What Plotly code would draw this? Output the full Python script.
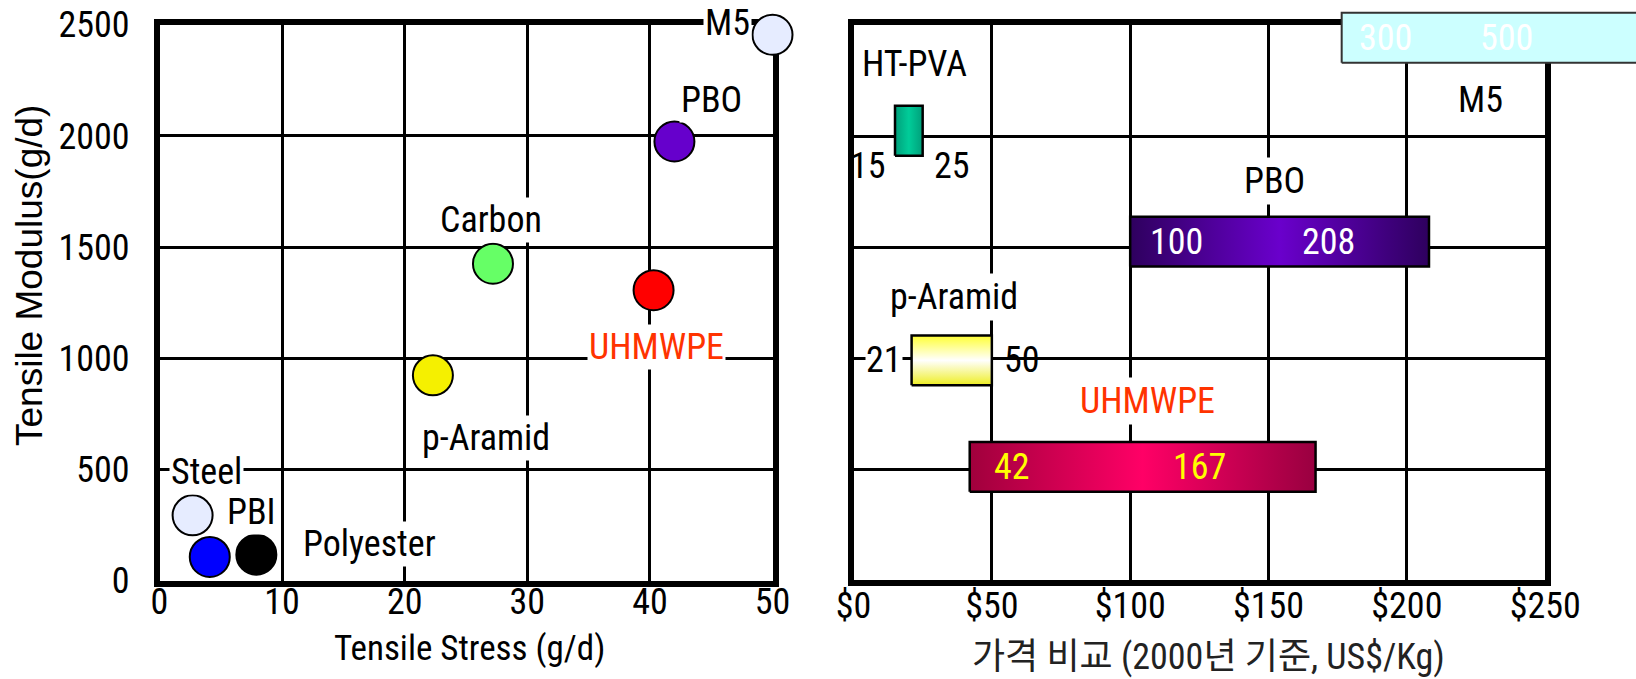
import plotly.graph_objects as go

# ---------------- Left chart data (tensile properties) ----------------
fibers = ["M5", "PBO", "Carbon", "UHMWPE", "p-Aramid", "Steel", "PBI", "Polyester"]
tensile_stress = [50, 42, 27.2, 40.3, 22.3, 2.7, 4.1, 7.9]          # g/d
tensile_modulus = [2455, 1975, 1425, 1306, 923, 293, 106, 116]       # g/d
stress_ticks = [0, 10, 20, 30, 40, 50]
modulus_ticks = [0, 500, 1000, 1500, 2000, 2500]

# ---------------- Right chart data (price ranges, US$/Kg, 2000) ----------------
price_fibers = ["HT-PVA", "PBO", "p-Aramid", "UHMWPE"]
price_low = [15, 100, 21, 42]
price_high = [25, 208, 50, 167]
price_row = [4.05, 3.05, 1.98, 1.02]
m5_low = 300
m5_high = 500
m5_row = 4.875
price_ticks = [0, 50, 100, 150, 200, 250]
price_tick_text = ["$0", "$50", "$100", "$150", "$200", "$250"]

# ---------------- Styles ----------------
W, H = 1636, 679
NARROW = "Liberation Sans Narrow, Arial Narrow, Roboto Condensed, DejaVu Sans Condensed, sans-serif"
REG = "Liberation Sans, Arial, sans-serif"
KR = "Liberation Sans Narrow, Arial Narrow, Roboto Condensed, Noto Sans CJK KR, sans-serif"
FS = 36
ORANGE = "#FF3300"

marker_colors = ["#E6ECFF", "#6600CC", "#66FF66", "#FF0000", "#F5F000", "#E6ECFF", "#0000FF", "#000000"]
left_label_pos = {  # (x, y, xanchor, yshift, color)
    "M5": (48.3, 2500, "right", 2, "black"),
    "PBO": (45.0, 2161, "center", 0, "black"),
    "Carbon": (27.0, 1624, "center", 0, "black"),
    "UHMWPE": (40.5, 1050, "center", 0, ORANGE),
    "p-Aramid": (26.6, 643, "center", 0, "black"),
    "Steel": (3.8, 489, "center", 0, "black"),
    "PBI": (7.5, 307, "center", 0, "black"),
    "Polyester": (17.1, 162, "center", 0, "black"),
}
bar_gradients = {
    "HT-PVA": ("horizontal", [[0, "#009f7a"], [0.5, "#00cc99"], [1, "#009f7a"]]),
    "PBO": ("horizontal", [[0, "#2e005e"], [0.5, "#6a00cc"], [1, "#2e005e"]]),
    "p-Aramid": ("vertical", [[0, "#eeee22"], [0.5, "#ffffff"], [1, "#ffff33"]]),
    "UHMWPE": ("horizontal", [[0, "#a0003c"], [0.5, "#ff0066"], [1, "#990040"]]),
}
name_label_pos = {
    "HT-PVA": (21.9, 4.65, "black"),
    "PBO": (152.2, 3.60, "black"),
    "p-Aramid": (36.2, 2.55, "black"),
    "UHMWPE": (106.4, 1.61, ORANGE),
}
# (lo xshift, hi xshift, yshift, color, bg of low label)
value_label_style = {
    "HT-PVA": (-27, 29, -35, "black", None),
    "PBO": (46, -100, 0, "white", None),
    "p-Aramid": (-28, 30, 0, "black", "white"),
    "UHMWPE": (42, -116, 0, "#FFFF00", None),
}
m5_label_shift = (44, 165)   # pixels right of the M5 bar start
BAR_H = 0.45


def px_x(p):
    return p / W


def px_y(p):
    return 1 - p / H


fig = go.Figure()

# ---- left scatter ----
fig.add_trace(go.Scatter(
    x=tensile_stress, y=tensile_modulus, mode="markers",
    marker=dict(size=40, color=marker_colors, line=dict(color="black", width=2)),
    cliponaxis=False, xaxis="x", yaxis="y", showlegend=False, hoverinfo="text", text=fibers,
))

annotations = []
for name in fibers:
    x, y, xa, ys, col = left_label_pos[name]
    annotations.append(dict(x=x, y=y, xref="x", yref="y", text=name, showarrow=False, yshift=ys,
                            xanchor=xa, font=dict(family=NARROW, size=FS, color=col),
                            bgcolor="white", borderpad=1))

# ---- right bars ----
for name, lo, hi, r in zip(price_fibers, price_low, price_high, price_row):
    gtype, cs = bar_gradients[name]
    fig.add_trace(go.Scatter(
        x=[lo, hi, hi, lo, lo], y=[r - BAR_H / 2, r - BAR_H / 2, r + BAR_H / 2, r + BAR_H / 2, r - BAR_H / 2],
        mode="lines", fill="toself", fillgradient=dict(type=gtype, colorscale=cs),
        line=dict(color="black", width=2.5), xaxis="x2", yaxis="y2", showlegend=False, hoverinfo="skip",
    ))
    lx, ly, lcol = name_label_pos[name]
    annotations.append(dict(x=lx, y=ly, xref="x2", yref="y2", text=name, showarrow=False,
                            font=dict(family=NARROW, size=FS, color=lcol), bgcolor="white", borderpad=2))
    xs_lo, xs_hi, ys, vcol, bg = value_label_style[name]
    for val, xs in ((lo, xs_lo), (hi, xs_hi)):
        annotations.append(dict(x=val, y=r, xref="x2", yref="y2", text=str(val), showarrow=False,
                                xshift=xs, yshift=ys, font=dict(family=NARROW, size=FS, color=vcol),
                                bgcolor=bg if (bg and val == lo) else None, borderpad=0))

# ---- M5 bar on a broken scale (separate axes) ----
fig.add_trace(go.Scatter(
    x=[m5_low, m5_high, m5_high, m5_low, m5_low],
    y=[m5_row - BAR_H / 2, m5_row - BAR_H / 2, m5_row + BAR_H / 2, m5_row + BAR_H / 2, m5_row - BAR_H / 2],
    mode="lines", fill="toself", fillcolor="#CCFFFF", line=dict(color="#333333", width=2),
    xaxis="x3", yaxis="y3", showlegend=False, hoverinfo="skip",
))
for val, xs in zip((m5_low, m5_high), m5_label_shift):
    annotations.append(dict(x=m5_low, y=m5_row, xref="x3", yref="y3", text=str(val), showarrow=False,
                            xshift=xs, font=dict(family=NARROW, size=FS, color="white")))
annotations.append(dict(x=226.6, y=4.325, xref="x2", yref="y2", text="M5", showarrow=False,
                        font=dict(family=NARROW, size=FS, color="black")))

# ---- axis titles ----
title_common = dict(xref="paper", yref="paper", showarrow=False, xanchor="center", yanchor="middle")
annotations.append(dict(x=px_x(469.5), y=px_y(648), text="Tensile Stress (g/d)",
                        font=dict(family=NARROW, size=35, color="black"), **title_common))
annotations.append(dict(x=px_x(29), y=px_y(276), text="Tensile Modulus(g/d)", textangle=-90,
                        font=dict(family=REG, size=37, color="black"), **title_common))
annotations.append(dict(x=px_x(1208), y=px_y(657), text="가격 비교 (2000년 기준, US$/Kg)",
                        font=dict(family=KR, size=FS, color="#222222"), **title_common))

axis_common = dict(showgrid=True, gridcolor="black", gridwidth=2.5, showline=True, linecolor="black",
                   linewidth=5.5, mirror=True, zeroline=False, ticks="", layer="below traces",
                   tickfont=dict(family=NARROW, size=FS, color="black"), fixedrange=True)

fig.update_layout(
    width=W, height=H, margin=dict(l=0, r=0, t=0, b=0, autoexpand=False),
    paper_bgcolor="white", plot_bgcolor="rgba(0,0,0,0)", showlegend=False,
    xaxis=dict(domain=[px_x(159.5), px_x(772.5)], range=[0, 50], tickvals=stress_ticks, anchor="y",
               ticklabelstandoff=-15, **axis_common),
    yaxis=dict(domain=[px_y(580.5), px_y(24.8)], range=[0, 2500], tickvals=modulus_ticks, anchor="x",
               ticklabelstandoff=17, **axis_common),
    xaxis2=dict(domain=[px_x(853.5), px_x(1545.2)], range=[0, 250], tickvals=price_ticks,
                ticktext=price_tick_text, anchor="y2", ticklabelstandoff=-11, **axis_common),
    yaxis2=dict(domain=[px_y(580), px_y(25.3)], range=[0, 5], tickvals=[1, 2, 3, 4], showticklabels=False,
                anchor="x2", **axis_common),
    xaxis3=dict(domain=[px_x(1330), 1], range=[292.7, 483.9], visible=False, anchor="y3", fixedrange=True),
    yaxis3=dict(domain=[px_y(581.5), 1], range=[0, 581.5 / 111.54], visible=False, anchor="x3", fixedrange=True),
    annotations=annotations,
)

fig.write_html("out.html", config={"displayModeBar": False},
               post_script="document.body.style.margin='0px';")
